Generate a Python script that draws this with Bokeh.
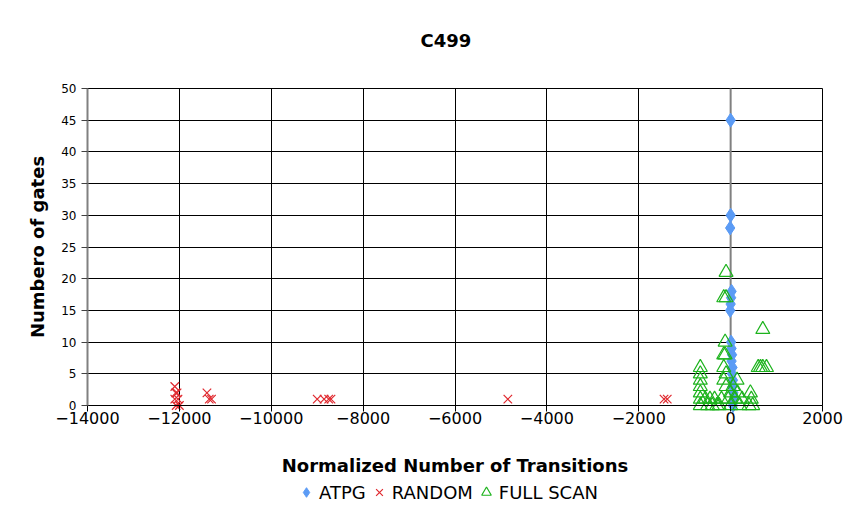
from bokeh.plotting import figure
from bokeh.models import FixedTicker, Legend, LegendItem, BasicTickFormatter, Range1d, Label
from bokeh.embed import file_html
from bokeh.resources import INLINE

# ---- data ----
atpg_x = [0, 0, -10, 20, 10, 0, -10, 10, 20, 30, 20, 40, 30, 50, 40, 60, 70, 50]
atpg_y = [45, 30, 28, 18, 17, 16, 15, 10, 9, 8, 7, 6, 5, 4, 3, 2, 1, 0]

random_x = [-12100, -12080, -12050, -12100, -12030, -12070, -12000,
            -11400, -11350, -11300, -9000, -8850, -8750, -8700,
            -4850, -1450, -1380]
random_y = [3, 2, 2, 1, 1, 0, 0, 2, 1, 1, 1, 1, 1, 1, 1, 1, 1]

fullscan_x = [-100, -150, -100, -120, -150, -120, -150, -100, -150, -100,
              600, 650, 700, 780, 700,
              -660, -660, -660, -660, -660, -660, -660,
              -550, -500, -450, -400, -350, -300,
              140, 50, 150, 0, -50, 0, 100, 200, 250, 430, 450, 400, 480, -200, -250]
fullscan_y = [21, 17, 17, 10, 8, 8, 6, 5, 4, 3,
              6, 6, 6, 6, 12,
              6, 5, 4, 3, 2, 1, 0,
              1, 0, 1, 0, 1, 0,
              4, 3, 2, 2, 1, 0, 1, 0, 1, 2, 1, 0, 0, 1, 0]

x_ticks = [-14000, -12000, -10000, -8000, -6000, -4000, -2000, 0, 2000]
y_ticks = [0, 5, 10, 15, 20, 25, 30, 35, 40, 45, 50]
title_text = "C499"

FONT = "DejaVu Sans"
X0, X1 = x_ticks[0], x_ticks[-1]
Y0, Y1 = y_ticks[0], y_ticks[-1]

# the frame spans the whole canvas; the value window (ticks range) sits inside it
p = figure(width=846, height=506,
           x_range=Range1d(-15894, 2522), y_range=Range1d(-15.93, 63.88),
           output_backend="svg", toolbar_location=None,
           min_border_left=0, min_border_right=0, min_border_top=0,
           min_border_bottom=0)

p.background_fill_color = "white"
p.border_fill_color = "white"
p.outline_line_color = None

p.xaxis.ticker = FixedTicker(ticks=x_ticks)
p.yaxis.ticker = FixedTicker(ticks=y_ticks)
p.xaxis.formatter = BasicTickFormatter(use_scientific=False)
p.xaxis.fixed_location = Y0
p.yaxis.fixed_location = X0
p.xaxis.bounds = (X0, X1)
p.yaxis.bounds = (Y0, Y1)

for g in (p.xgrid, p.ygrid):
    g.grid_line_color = "black"
    g.grid_line_width = 1
    g.grid_line_alpha = 1
p.xgrid.ticker = FixedTicker(ticks=x_ticks)
p.ygrid.ticker = FixedTicker(ticks=y_ticks)
p.xgrid.cross_bounds = (Y0, Y1)
p.ygrid.cross_bounds = (X0, X1)

p.xaxis.axis_line_color = "black"
p.xaxis.major_tick_line_color = "black"
p.xaxis.major_tick_out = 6
p.xaxis.major_tick_in = 0
p.xaxis.major_label_standoff = 0
p.xaxis.minor_tick_line_color = None
p.xaxis.major_label_text_font = FONT
p.xaxis.major_label_text_font_size = "16px"
p.xaxis.major_label_text_color = "black"
p.xaxis.axis_label = "Normalized Number of Transitions"
p.xaxis.axis_label_text_font = FONT
p.xaxis.axis_label_text_font_size = "18px"
p.xaxis.axis_label_text_font_style = "bold"
p.xaxis.axis_label_text_color = "black"
p.xaxis.axis_label_standoff = 28

p.yaxis.axis_line_color = "#808080"
p.yaxis.axis_line_width = 2
p.yaxis.major_tick_line_color = "#404040"
p.yaxis.major_tick_out = 6
p.yaxis.major_tick_in = 0
p.yaxis.minor_tick_line_color = None
p.yaxis.major_label_text_font = FONT
p.yaxis.major_label_text_font_size = "12px"
p.yaxis.major_label_text_color = "black"
p.yaxis.axis_label = "Numbero of gates"
p.yaxis.axis_label_text_font = FONT
p.yaxis.axis_label_text_font_size = "18px"
p.yaxis.axis_label_text_font_style = "bold"
p.yaxis.axis_label_text_color = "black"
p.yaxis.axis_label_standoff = 10

# vertical value-axis line at x = 0 (gray), spanning the tick range
p.segment(x0=[0], y0=[Y0], x1=[0], y1=[Y1], line_color="#808080", line_width=2)

r1 = p.scatter(atpg_x, atpg_y, marker="diamond", size=14,
               fill_color="#5B9BF5", line_color="#5B9BF5")
r2 = p.scatter(random_x, random_y, marker="x", size=12,
               line_color="#E0282E", line_width=1.2)
r3 = p.scatter(fullscan_x, fullscan_y, marker="triangle", size=14,
               fill_color=None, line_color="#1DB31D", line_width=1.2)

p.add_layout(Label(x=(X0 + X1) / 2 - 200, y=57.6, text=title_text,
                   text_align="center", text_baseline="middle",
                   text_font=FONT, text_font_size="18px", text_font_style="bold",
                   text_color="black"))

legend = Legend(items=[LegendItem(label="ATPG", renderers=[r1]),
                       LegendItem(label="RANDOM", renderers=[r2]),
                       LegendItem(label="FULL SCAN", renderers=[r3])],
                orientation="horizontal", location=(294, 2))
legend.label_text_font = FONT
legend.label_text_font_size = "18px"
legend.label_text_color = "black"
legend.border_line_color = None
legend.background_fill_alpha = 0
legend.glyph_width = 24
legend.glyph_height = 24
legend.label_standoff = 1
legend.spacing = 1
legend.padding = 0
legend.margin = 0
p.add_layout(legend, "center")

open("out.html", "w").write(file_html(p, INLINE))
